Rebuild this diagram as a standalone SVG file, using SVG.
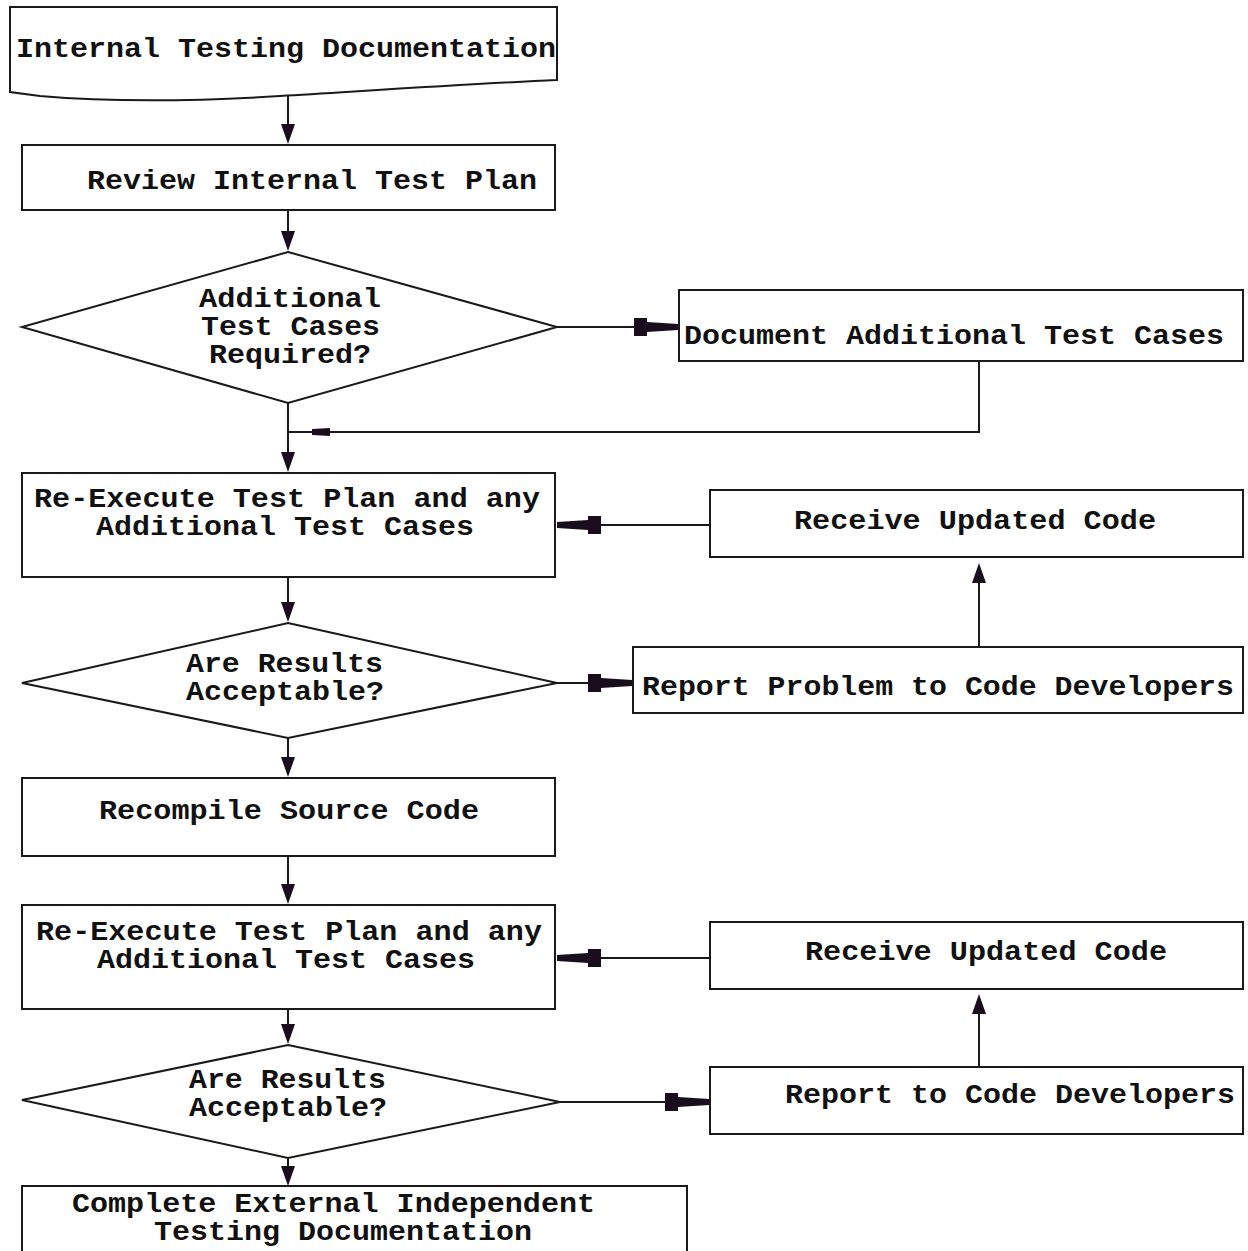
<svg xmlns="http://www.w3.org/2000/svg" width="1248" height="1251" viewBox="0 0 1248 1251">
  <style>
    .shape { fill: #ffffff; stroke: #1a1a1a; stroke-width: 2; }
    .line { fill: none; stroke: #1a1a1a; stroke-width: 2; }
    .label { font-family: "Liberation Mono", "DejaVu Sans Mono", monospace; font-size: 28px; font-weight: bold; fill: #111111; }
    .head { fill: #1a0d1e; }
  </style>
  <defs>
    <!-- heavy block arrowhead used on horizontal flows, tip at x=0 pointing right -->
    <path id="hArrow" d="M-44,-9 L-31,-9 L-31,-5 L0,-3 L0,3 L-31,5 L-31,9 L-44,9 Z"/>
    <!-- small triangle arrowhead for vertical flows, tip at y=0 pointing down -->
    <path id="vArrow" d="M-7,-20 L7,-20 L0,0 Z"/>
  </defs>

  <rect width="1248" height="1251" fill="#ffffff"/>

  <!-- connectors -->
  <g id="connectors">
    <line class="line" x1="288" y1="95" x2="288" y2="130"/>
    <use href="#vArrow" class="head" transform="translate(288,144)"/>

    <line class="line" x1="288" y1="210" x2="288" y2="236"/>
    <use href="#vArrow" class="head" transform="translate(288,251)"/>

    <line class="line" x1="557" y1="327" x2="640" y2="327"/>
    <use href="#hArrow" class="head" transform="translate(678,327)"/>

    <polyline class="line" points="979,361 979,432 288,432"/>
    <path class="head" d="M312,429 L330,428 L330,436 L312,435 Z"/>

    <line class="line" x1="288" y1="403" x2="288" y2="456"/>
    <use href="#vArrow" class="head" transform="translate(288,472)"/>

    <line class="line" x1="710" y1="525" x2="595" y2="525"/>
    <use href="#hArrow" class="head" transform="translate(557,525) rotate(180)"/>

    <line class="line" x1="288" y1="577" x2="288" y2="606"/>
    <use href="#vArrow" class="head" transform="translate(288,622)"/>

    <line class="line" x1="557" y1="683" x2="595" y2="683"/>
    <use href="#hArrow" class="head" transform="translate(632,683)"/>

    <line class="line" x1="979" y1="647" x2="979" y2="575"/>
    <use href="#vArrow" class="head" transform="translate(979,563) rotate(180)"/>

    <line class="line" x1="288" y1="738" x2="288" y2="762"/>
    <use href="#vArrow" class="head" transform="translate(288,777)"/>

    <line class="line" x1="288" y1="856" x2="288" y2="888"/>
    <use href="#vArrow" class="head" transform="translate(288,904)"/>

    <line class="line" x1="710" y1="958" x2="595" y2="958"/>
    <use href="#hArrow" class="head" transform="translate(557,958) rotate(180)"/>

    <line class="line" x1="288" y1="1009" x2="288" y2="1030"/>
    <use href="#vArrow" class="head" transform="translate(288,1044)"/>

    <line class="line" x1="560" y1="1102" x2="672" y2="1102"/>
    <use href="#hArrow" class="head" transform="translate(709,1102)"/>

    <line class="line" x1="979" y1="1067" x2="979" y2="1005"/>
    <use href="#vArrow" class="head" transform="translate(979,994) rotate(180)"/>

    <line class="line" x1="288" y1="1158" x2="288" y2="1172"/>
    <use href="#vArrow" class="head" transform="translate(288,1186)"/>
  </g>

  <!-- nodes -->
  <g id="node-internal-doc">
    <path class="shape" d="M10,7 H557 V80 C470,84 380,90 280,96 C200,101 110,102 40,96 L10,92 Z"/>
    <text class="label" x="16" y="57" textLength="540" lengthAdjust="spacingAndGlyphs">Internal Testing Documentation</text>
  </g>

  <g id="node-review-plan">
    <rect class="shape" x="22" y="145" width="533" height="65"/>
    <text class="label" x="87" y="189" textLength="450" lengthAdjust="spacingAndGlyphs">Review Internal Test Plan</text>
  </g>

  <g id="node-additional-cases">
    <polygon class="shape" points="288,252 557,327 288,403 22,327"/>
    <text class="label" x="199" y="307" textLength="182" lengthAdjust="spacingAndGlyphs">Additional</text>
    <text class="label" x="201" y="335" textLength="179" lengthAdjust="spacingAndGlyphs">Test Cases</text>
    <text class="label" x="209" y="363" textLength="162" lengthAdjust="spacingAndGlyphs">Required?</text>
  </g>

  <g id="node-document-cases">
    <rect class="shape" x="679" y="290" width="564" height="71"/>
    <text class="label" x="684" y="344" textLength="540" lengthAdjust="spacingAndGlyphs">Document Additional Test Cases</text>
  </g>

  <g id="node-reexecute-1">
    <rect class="shape" x="22" y="473" width="533" height="104"/>
    <text class="label" x="34" y="507" textLength="506" lengthAdjust="spacingAndGlyphs">Re-Execute Test Plan and any</text>
    <text class="label" x="96" y="535" textLength="378" lengthAdjust="spacingAndGlyphs">Additional Test Cases</text>
  </g>

  <g id="node-receive-code-1">
    <rect class="shape" x="710" y="490" width="533" height="67"/>
    <text class="label" x="794" y="529" textLength="362" lengthAdjust="spacingAndGlyphs">Receive Updated Code</text>
  </g>

  <g id="node-acceptable-1">
    <polygon class="shape" points="288,623 557,683 288,738 22,683"/>
    <text class="label" x="186" y="672" textLength="197" lengthAdjust="spacingAndGlyphs">Are Results</text>
    <text class="label" x="186" y="700" textLength="198" lengthAdjust="spacingAndGlyphs">Acceptable?</text>
  </g>

  <g id="node-report-problem">
    <rect class="shape" x="633" y="647" width="610" height="66"/>
    <text class="label" x="642" y="695" textLength="592" lengthAdjust="spacingAndGlyphs">Report Problem to Code Developers</text>
  </g>

  <g id="node-recompile">
    <rect class="shape" x="22" y="778" width="533" height="78"/>
    <text class="label" x="99" y="819" textLength="380" lengthAdjust="spacingAndGlyphs">Recompile Source Code</text>
  </g>

  <g id="node-reexecute-2">
    <rect class="shape" x="22" y="905" width="533" height="104"/>
    <text class="label" x="36" y="940" textLength="506" lengthAdjust="spacingAndGlyphs">Re-Execute Test Plan and any</text>
    <text class="label" x="97" y="968" textLength="378" lengthAdjust="spacingAndGlyphs">Additional Test Cases</text>
  </g>

  <g id="node-receive-code-2">
    <rect class="shape" x="710" y="922" width="533" height="67"/>
    <text class="label" x="805" y="960" textLength="362" lengthAdjust="spacingAndGlyphs">Receive Updated Code</text>
  </g>

  <g id="node-acceptable-2">
    <polygon class="shape" points="288,1045 560,1102 288,1158 22,1100"/>
    <text class="label" x="189" y="1088" textLength="197" lengthAdjust="spacingAndGlyphs">Are Results</text>
    <text class="label" x="189" y="1116" textLength="198" lengthAdjust="spacingAndGlyphs">Acceptable?</text>
  </g>

  <g id="node-report-developers">
    <rect class="shape" x="710" y="1067" width="533" height="67"/>
    <text class="label" x="785" y="1103" textLength="450" lengthAdjust="spacingAndGlyphs">Report to Code Developers</text>
  </g>

  <g id="node-complete-external">
    <path class="shape" d="M22,1260 V1186 H687 V1260"/>
    <text class="label" x="72" y="1212" textLength="523" lengthAdjust="spacingAndGlyphs">Complete External Independent</text>
    <text class="label" x="154" y="1240" textLength="378" lengthAdjust="spacingAndGlyphs">Testing Documentation</text>
  </g>
</svg>
